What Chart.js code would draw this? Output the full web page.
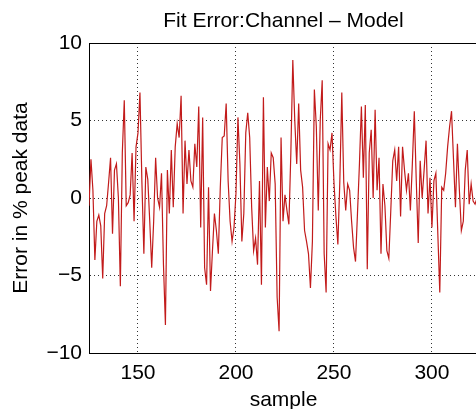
<!DOCTYPE html>
<html>
<head>
<meta charset="utf-8">
<script src="https://cdn.jsdelivr.net/npm/chart.js@4/dist/chart.umd.min.js"></script>
<style>
  html, body { margin: 0; padding: 0; background: #fff; overflow: hidden; }
  #wrap { width: 478px; height: 409px; }
</style>
</head>
<body>
<div id="wrap"><canvas id="chartFit" width="478" height="409"></canvas></div>
<script>
// first sample shown on the x axis
var firstSample = 125;

// fit error (% of peak) for each sample, starting at sample 125
var fitError = [
  -0.5, 2.5, 0.5, -4.0, -1.5, -1.1, -1.8, -5.2, -1.0, -0.5,
   1.0, 2.6, -2.3, 1.8, 2.2, 0.0, -5.7, 2.9, 6.3, -0.5,
  -0.3, 0.2, 2.9, -1.5, 3.3, 4.2, 6.8, 1.0, -3.6, 2.0,
   1.2, -1.5, -4.5, -1.5, 2.6, 0.0, -0.6, 1.6, -4.3, -8.2,
   1.8, -1.0, 3.1, -0.6, 3.3, 4.8, 3.9, 6.6, -1.0, 3.7,
   0.9, 3.1, 1.1, 0.7, 3.5, 2.0, 5.9, -1.9, 5.2, -4.5,
  -5.6, 0.7, -6.0, -3.4, -1.0, -2.1, -3.6, 0.7, 3.9, 4.0,
   6.1, 1.1, -1.5, -2.8, -1.9, 0.3, 5.2, 2.2, -2.8, -1.0,
   4.2, 5.5, 3.9, -0.6, -3.4, -2.6, -4.3, 1.1, -5.6, 6.5,
  -1.9, 2.0, -0.2, 2.9, 2.6, 0.9, -6.4, -8.6, 3.9, -1.5,
   0.2, -0.8, -1.7, 2.9, 8.9, 5.0, 2.2, 6.1, 1.8, 0.7,
  -2.1, -2.8, -3.6, -5.8, -2.8, 7.0, 4.6, -0.8, 5.0, 7.6,
  -3.6, -6.1, 3.5, 3.1, 4.2, 1.0, -1.2, -3.0, 1.1, 6.8,
   1.0, -0.8, 0.9, 0.5, -1.5, -3.2, -4.1, -1.0, 2.2, 5.9,
   1.3, 6.0, -4.6, 2.9, 4.4, 0.0, 5.7, 0.5, 2.6, -3.6,
   0.9, -0.5, -3.4, -3.9, -0.8, 2.4, 3.1, 1.1, 3.3, -1.2,
   3.3, 1.8, 0.5, 1.6, -0.8, 2.2, 5.6, 1.1, -2.9, 2.4,
   0.0, 1.8, 3.7, -1.0, 1.3, -1.9, 1.1, 1.6, -2.3, -6.1,
   0.7, 0.5, 1.6, 3.3, 4.6, 5.6, 2.5, -0.6, 3.5, 0.5,
  -2.1, -1.5, 1.8, 3.1, -0.4, 0.9, -0.2, -0.4, 0.0
];

var xTicks = [150, 200, 250, 300];
var yTicks = [-10, -5, 0, 5, 10];

var points = fitError.map(function (v, i) {
  return { x: firstSample + i, y: v };
});

var FONT = "'Liberation Sans', Arial, Helvetica, sans-serif";

// matlab style top edge + title centred on the axes
var boxPlugin = {
  id: 'boxPlugin',
  afterDraw: function (chart) {
    var a = chart.chartArea, c = chart.ctx;
    c.save();
    c.strokeStyle = '#000';
    c.lineWidth = 1;
    c.beginPath();
    c.moveTo(a.left, a.top + 0.5);
    c.lineTo(a.right, a.top + 0.5);
    c.stroke();
    c.fillStyle = '#000';
    c.font = '21px ' + FONT;
    c.textAlign = 'center';
    c.textBaseline = 'alphabetic';
    c.fillText('Fit Error:Channel \u2013 Model', (a.left + a.right) / 2, 27);
    c.restore();
  }
};

function minusSign(v) {
  return String(v).replace('-', '\u2212');
}

var ctx = document.getElementById('chartFit').getContext('2d');
var chart = new Chart(ctx, {
  type: 'line',
  data: {
    datasets: [{
      data: points,
      borderColor: '#c21b1b',
      borderWidth: 1.2,
      pointRadius: 0,
      tension: 0,
      fill: false
    }]
  },
  options: {
    responsive: false,
    animation: false,
    layout: { padding: { top: 43, left: 0, right: 0, bottom: 0 } },
    plugins: {
      legend: { display: false },
      tooltip: { enabled: false },
      title: { display: false }
    },
    scales: {
      x: {
        type: 'linear',
        min: 125,
        max: 323.5,
        afterBuildTicks: function (s) { s.ticks = xTicks.map(function (v) { return { value: v }; }); },
        afterFit: function (s) { s.height = 56; },
        ticks: { color: '#000', font: { family: FONT, size: 21 }, padding: 8, maxRotation: 0 },
        grid: { color: '#333', drawTicks: false, lineWidth: 1 },
        border: { display: true, color: '#000', width: 1, dash: [1, 3] },
        title: { display: true, text: 'sample', color: '#000', font: { family: FONT, size: 21, lineHeight: 0.8 }, padding: { top: 0, bottom: 0 } }
      },
      y: {
        min: -10,
        max: 10,
        afterBuildTicks: function (s) { s.ticks = yTicks.map(function (v) { return { value: v }; }); },
        afterFit: function (s) { s.width = 89; },
        ticks: { color: '#000', font: { family: FONT, size: 21 }, padding: 7, callback: minusSign },
        grid: {
          color: function (c) { return (c.tick && Math.abs(c.tick.value) === 10) ? 'rgba(0,0,0,0)' : '#333'; },
          drawTicks: false, lineWidth: 1
        },
        border: { display: true, color: '#000', width: 1, dash: [1, 3] },
        title: { display: true, text: 'Error in % peak data', color: '#000', font: { family: FONT, size: 21 }, padding: { top: 9, bottom: 0 } }
      }
    }
  },
  plugins: [boxPlugin]
});
</script>
</body>
</html>
